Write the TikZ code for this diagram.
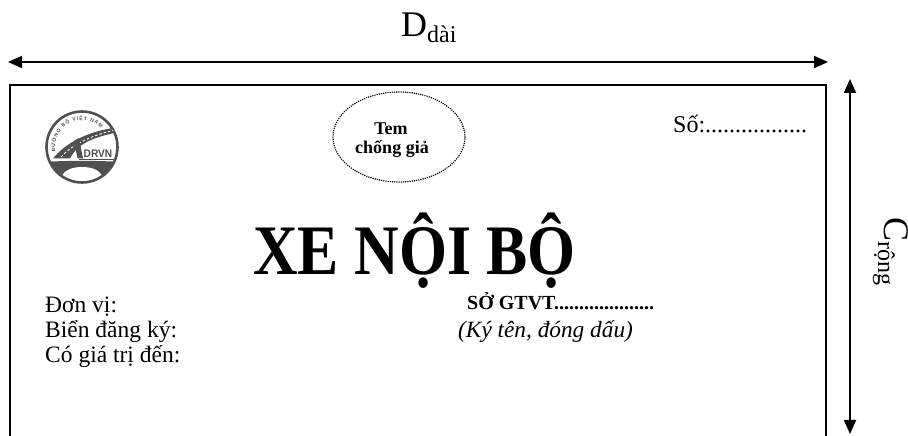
\documentclass[tikz,border=0pt]{standalone}
\usepackage{fontspec}
\usepackage{graphicx}
\setmainfont{Liberation Serif}
\newfontfamily\logofont{Liberation Sans}
\usetikzlibrary{arrows.meta,decorations.text,shapes.geometric}
\definecolor{logogray}{RGB}{80,80,80}
\tikzset{
  dimarrow/.style={line width=1.8pt, {Triangle[length=14pt,width=12pt]}-{Triangle[length=14pt,width=12pt]}},
  frameline/.style={line width=1.8pt},
  txt/.style={inner sep=0pt, anchor=base west},
  ctxt/.style={inner sep=0pt, anchor=base},
  stampshape/.style={ellipse, draw, line width=1.6pt, dash pattern=on 0pt off 2.2pt, line cap=round, minimum width=132pt, minimum height=90pt, inner sep=0pt},
}
\begin{document}
\begin{tikzpicture}[x=1pt,y=1pt]
\useasboundingbox (0,0) rectangle (908,436);
% dimension arrows
\coordinate (hl) at (8,374);
\coordinate (hr) at (828,374);
\draw[dimarrow] (hl) -- (hr);
\node[txt] (dlab) at (401,399) {\fontsize{36}{36}\selectfont D\raisebox{-6pt}{\fontsize{24}{24}\selectfont dài}};
\coordinate (vt) at (850,357);
\coordinate (vb) at (850,2);
\draw[dimarrow] (vt) -- (vb);
\node[txt, rotate=-90] (clab) at (884,219) {\fontsize{36}{36}\selectfont C\raisebox{-6pt}{\fontsize{24}{24}\selectfont rộng}};
% frame
\coordinate (fbl) at (10,-5);
\coordinate (ftl) at (10,351);
\coordinate (ftr) at (826,351);
\coordinate (fbr) at (826,-5);
\draw[frameline] (fbl) -- (ftl) -- (ftr) -- (fbr);
% logo
\begin{scope}[shift={(82,289)}]
  \begin{scope}
    \clip (0,0) circle (35);
    \fill[logogray] (-40,-15) .. controls (-15,-13.5) and (15,-13.5) .. (40,-15) -- (40,-40) -- (-40,-40) -- cycle;
    \fill[white] (-21,-40) -- (-21,-31) .. controls (-18,-22) and (-8,-20) .. (0,-20) .. controls (8,-20) and (18,-22) .. (21,-31) -- (21,-40) -- cycle;
  \end{scope}
  \draw[logogray, line width=2.6pt] (0,0) circle (35.5);
  \fill[logogray] (-29,-11.5) .. controls (-19,1) and (0,14) .. (31,19) -- (32,14) .. controls (10,9) and (-5,3) .. (-12,-11.5) -- cycle;
  \draw[white, line width=0.9pt, dash pattern=on 2.5pt off 2pt] (-21,-10) .. controls (-12,0) and (5,10.5) .. (31,16.5);
  \fill[logogray] (-8,6) -- (-3,9) -- (1,-11.5) -- (-4.5,-11.5) -- cycle;
  \draw[logogray, line width=1.2pt] (-3,-12.3) -- (33,-12.3);
  \node[inner sep=0pt, anchor=base west, text=logogray] (drvn) at (1.5,-10.6) {\scalebox{0.92}[1]{\logofont\bfseries\fontsize{11}{11}\selectfont DRVN}};
  \path[decorate, decoration={text along path, text={|\logofont\bfseries\fontsize{5}{6}\selectfont\color{logogray}|ĐƯỜNG BỘ VIỆT NAM}, text align={fit to path}}] (190:27) arc[start angle=190, end angle=45, radius=27];
\end{scope}
% stamp
\node[stampshape] (stamp) at (399,299) {};
\node[ctxt] (tem) at (391,301) {\fontsize{18}{18}\selectfont\bfseries Tem};
\node[ctxt] (chong) at (392,282) {\fontsize{18}{18}\selectfont\bfseries chống giả};
% number
\node[txt] (so) at (673,303) {\fontsize{24}{24}\selectfont Số:.................};
% title
\node[txt] (title) at (253,161) {\scalebox{0.87}[1]{\fontsize{71}{71}\selectfont\bfseries XE NỘI BỘ}};
% fields
\node[txt] (donvi) at (45,123) {\fontsize{23.5}{25}\selectfont Đơn vị:};
\node[txt] (bien) at (45,98) {\fontsize{23.5}{25}\selectfont Biển đăng ký:};
\node[txt] (cogia) at (45,73) {\fontsize{23.5}{25}\selectfont Có giá trị đến:};
\node[txt] (sogtvt) at (467,126) {\fontsize{20}{20}\selectfont\bfseries SỞ GTVT....................};
\node[txt] (kyten) at (458,98) {\fontsize{23.3}{23.3}\selectfont\itshape (Ký tên, đóng dấu)};
\end{tikzpicture}
\end{document}
